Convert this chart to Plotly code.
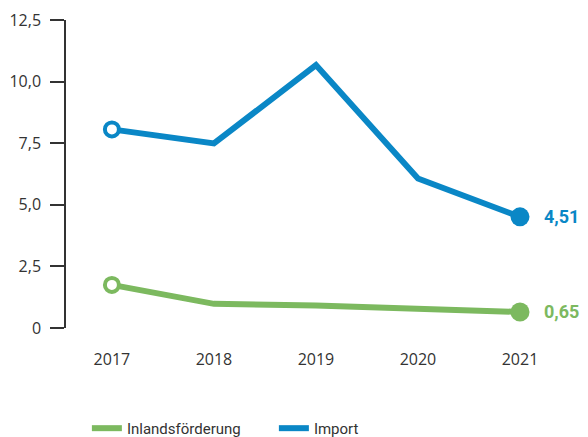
"""Import vs. Inlandsförderung, 2017-2021."""
import plotly.graph_objects as go

BLUE = "#0a87c6"
GREEN = "#7cb95f"
TEXT = "#333333"

years = ["2017", "2018", "2019", "2020", "2021"]
inland = [1.75, 0.98, 0.91, 0.75, 0.65]
imports = [8.06, 7.49, 10.67, 6.07, 4.51]

y_tickvals = [0, 2.5, 5.0, 7.5, 10.0, 12.5]
y_ticktext = ["0", "2,5", "5,0", "7,5", "10,0", "12,5"]


def fmt(v):
    return f"{v:.2f}".replace(".", ",")


fig = go.Figure()

for name, vals, color in [("Inlandsförderung", inland, GREEN), ("Import", imports, BLUE)]:
    fig.add_trace(go.Scatter(
        x=years, y=vals, name=name, mode="lines",
        line=dict(color=color, width=6),
        cliponaxis=False,
    ))

annotations = []
for vals, color in [(inland, GREEN), (imports, BLUE)]:
    # offener Kreis am Anfang, gefüllter Kreis am Ende
    fig.add_trace(go.Scatter(
        x=[years[0], years[-1]], y=[vals[0], vals[-1]],
        mode="markers", showlegend=False, hoverinfo="skip",
        marker=dict(size=[14, 19], color=["white", color], opacity=1,
                    line=dict(color=color, width=[4, 0])),
        cliponaxis=False,
    ))
    annotations.append(dict(
        x=len(years) - 1, y=vals[-1], xref="x", yref="y",
        text=f"<b>{fmt(vals[-1])}</b>",
        showarrow=False, xanchor="left", yanchor="middle", xshift=22,
        font=dict(family="Roboto", size=18, color=color),
    ))

# die Seite hat 8px Rand -> Figur entsprechend kleiner
fig.update_layout(
    width=580, height=429,
    paper_bgcolor="white", plot_bgcolor="white",
    margin=dict(l=58, r=17, t=12, b=109),
    font=dict(family="Open Sans", size=16, color=TEXT),
    annotations=annotations,
    showlegend=True,
    legend=dict(
        orientation="h", x=0.136, xanchor="left", xref="container",
        y=0.02, yanchor="middle", yref="container",
        font=dict(family="Roboto", size=15, color=TEXT),
        entrywidth=142, itemwidth=30, traceorder="normal",
    ),
    xaxis=dict(
        range=[-0.45, 4.5], showline=False, showgrid=False, zeroline=False,
        ticks="", ticklabelstandoff=20, automargin=False,
    ),
    yaxis=dict(
        range=[0, 12.5], showline=True, linecolor=TEXT, linewidth=1.5,
        showgrid=False, zeroline=False, automargin=False,
        ticks="outside", ticklen=14, tickwidth=1.5, tickcolor=TEXT,
        tickvals=y_tickvals, ticktext=y_ticktext, ticklabelstandoff=6,
    ),
)

fig.write_html("out.html")
